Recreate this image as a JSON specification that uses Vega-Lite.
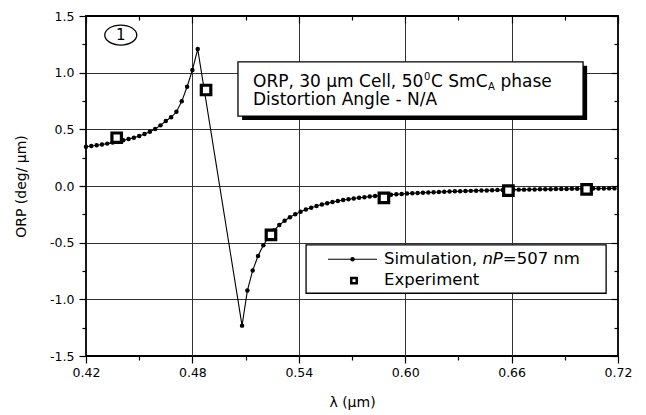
{
  "$schema": "https://vega.github.io/schema/vega-lite/v6.json",
  "width": 532,
  "height": 340,
  "autosize": "none",
  "padding": {"left": 86, "top": 16, "right": 28, "bottom": 59},
  "background": "white",
  "config": {
    "font": "DejaVu Sans",
    "view": {"stroke": "black", "strokeWidth": 1.8},
    "text": {"font": "DejaVu Sans", "color": "black"}
  },
  "datasets": {
    "simulation": [
      {"lam": 0.420, "orp": 0.347}, {"lam": 0.423, "orp": 0.353}, {"lam": 0.426, "orp": 0.359},
      {"lam": 0.429, "orp": 0.366}, {"lam": 0.432, "orp": 0.374}, {"lam": 0.435, "orp": 0.383},
      {"lam": 0.438, "orp": 0.393}, {"lam": 0.441, "orp": 0.403}, {"lam": 0.444, "orp": 0.414},
      {"lam": 0.447, "orp": 0.426}, {"lam": 0.450, "orp": 0.441}, {"lam": 0.453, "orp": 0.459},
      {"lam": 0.456, "orp": 0.479}, {"lam": 0.459, "orp": 0.503}, {"lam": 0.462, "orp": 0.535},
      {"lam": 0.465, "orp": 0.573}, {"lam": 0.468, "orp": 0.606}, {"lam": 0.471, "orp": 0.655},
      {"lam": 0.474, "orp": 0.747}, {"lam": 0.477, "orp": 0.876}, {"lam": 0.480, "orp": 1.023},
      {"lam": 0.483, "orp": 1.208},
      {"lam": 0.508, "orp": -1.232}, {"lam": 0.511, "orp": -0.923}, {"lam": 0.514, "orp": -0.745},
      {"lam": 0.517, "orp": -0.618}, {"lam": 0.520, "orp": -0.523}, {"lam": 0.523, "orp": -0.449},
      {"lam": 0.526, "orp": -0.392}, {"lam": 0.529, "orp": -0.345}, {"lam": 0.532, "orp": -0.307},
      {"lam": 0.535, "orp": -0.276}, {"lam": 0.538, "orp": -0.249}, {"lam": 0.541, "orp": -0.227},
      {"lam": 0.544, "orp": -0.207}, {"lam": 0.547, "orp": -0.191}, {"lam": 0.550, "orp": -0.176},
      {"lam": 0.553, "orp": -0.163}, {"lam": 0.556, "orp": -0.152}, {"lam": 0.559, "orp": -0.142},
      {"lam": 0.562, "orp": -0.133}, {"lam": 0.565, "orp": -0.124}, {"lam": 0.568, "orp": -0.117},
      {"lam": 0.571, "orp": -0.110}, {"lam": 0.574, "orp": -0.104}, {"lam": 0.577, "orp": -0.099},
      {"lam": 0.580, "orp": -0.093}, {"lam": 0.583, "orp": -0.089}, {"lam": 0.586, "orp": -0.084},
      {"lam": 0.589, "orp": -0.080}, {"lam": 0.592, "orp": -0.077}, {"lam": 0.595, "orp": -0.073},
      {"lam": 0.598, "orp": -0.070}, {"lam": 0.601, "orp": -0.067}, {"lam": 0.604, "orp": -0.064},
      {"lam": 0.607, "orp": -0.062}, {"lam": 0.610, "orp": -0.059}, {"lam": 0.613, "orp": -0.057},
      {"lam": 0.616, "orp": -0.055}, {"lam": 0.619, "orp": -0.053}, {"lam": 0.622, "orp": -0.051},
      {"lam": 0.625, "orp": -0.049}, {"lam": 0.628, "orp": -0.047}, {"lam": 0.631, "orp": -0.046},
      {"lam": 0.634, "orp": -0.044}, {"lam": 0.637, "orp": -0.043}, {"lam": 0.640, "orp": -0.041},
      {"lam": 0.643, "orp": -0.040}, {"lam": 0.646, "orp": -0.039}, {"lam": 0.649, "orp": -0.038},
      {"lam": 0.652, "orp": -0.036}, {"lam": 0.655, "orp": -0.035}, {"lam": 0.658, "orp": -0.034},
      {"lam": 0.661, "orp": -0.033}, {"lam": 0.664, "orp": -0.032}, {"lam": 0.667, "orp": -0.032},
      {"lam": 0.670, "orp": -0.031}, {"lam": 0.673, "orp": -0.030}, {"lam": 0.676, "orp": -0.029},
      {"lam": 0.679, "orp": -0.028}, {"lam": 0.682, "orp": -0.028}, {"lam": 0.685, "orp": -0.027},
      {"lam": 0.688, "orp": -0.026}, {"lam": 0.691, "orp": -0.026}, {"lam": 0.694, "orp": -0.025},
      {"lam": 0.697, "orp": -0.024}, {"lam": 0.700, "orp": -0.024}, {"lam": 0.703, "orp": -0.023},
      {"lam": 0.706, "orp": -0.023}, {"lam": 0.709, "orp": -0.022}, {"lam": 0.712, "orp": -0.022},
      {"lam": 0.715, "orp": -0.021}, {"lam": 0.718, "orp": -0.021}
    ],
    "experiment": [
      {"lam": 0.4373, "orp": 0.426},
      {"lam": 0.4877, "orp": 0.847},
      {"lam": 0.5243, "orp": -0.432},
      {"lam": 0.5880, "orp": -0.105},
      {"lam": 0.6582, "orp": -0.041},
      {"lam": 0.7023, "orp": -0.029}
    ]
  },
  "layer": [
    {
      "description": "Info box drop shadow, with the mirrored top/right tick axes",
      "data": {"values": [{"lam": 0.5080, "lam2": 0.7026, "orp": 1.061, "orp2": 0.582}]},
      "mark": {"type": "rect", "fill": "black"},
      "encoding": {
        "x": {"field": "lam", "type": "quantitative",
          "scale": {"domain": [0.42, 0.72], "nice": false, "zero": false},
          "axis": {"orient": "top", "title": null, "labels": false, "domain": false, "grid": false,
            "values": [0.42, 0.45, 0.48, 0.51, 0.54, 0.57, 0.6, 0.63, 0.66, 0.69, 0.72],
            "tickColor": "black", "tickWidth": 1.2,
            "tickSize": {"condition": {"test": "round((datum.value-0.42)/0.03)%2!==0", "value": -4}, "value": -7}}},
        "x2": {"field": "lam2"},
        "y": {"field": "orp", "type": "quantitative",
          "scale": {"domain": [-1.5, 1.5], "nice": false, "zero": false},
          "axis": {"orient": "right", "title": null, "labels": false, "domain": false, "grid": false,
            "values": [-1.5, -1.25, -1, -0.75, -0.5, -0.25, 0, 0.25, 0.5, 0.75, 1, 1.25, 1.5],
            "tickColor": "black", "tickWidth": 1.2,
            "tickSize": {"condition": {"test": "round(datum.value*4)%2!==0", "value": -4}, "value": -7}}},
        "y2": {"field": "orp2"}
      }
    },
    {
      "description": "Info box and legend box frames",
      "data": {"values": [
        {"lam": 0.5057, "lam2": 0.7003, "orp": 1.096, "orp2": 0.617},
        {"lam": 0.5441, "lam2": 0.7133, "orp": -0.5203, "orp2": -0.9462}
      ]},
      "mark": {"type": "rect", "fill": "white", "stroke": "black", "strokeWidth": 1.3},
      "encoding": {
        "x": {"field": "lam", "type": "quantitative", "scale": {"domain": [0.42, 0.72], "nice": false, "zero": false}, "axis": null},
        "x2": {"field": "lam2"},
        "y": {"field": "orp", "type": "quantitative", "scale": {"domain": [-1.5, 1.5], "nice": false, "zero": false}, "axis": null},
        "y2": {"field": "orp2"}
      }
    },
    {
      "description": "Simulated ORP curve with its sample points",
      "data": {"name": "simulation"},
      "mark": {"type": "line", "color": "black", "strokeWidth": 1.1,
        "point": {"filled": true, "color": "black", "size": 20}},
      "encoding": {
        "x": {"field": "lam", "type": "quantitative",
          "scale": {"domain": [0.42, 0.72], "nice": false, "zero": false},
          "axis": {"orient": "bottom", "title": "λ (μm)",
            "values": [0.42, 0.45, 0.48, 0.51, 0.54, 0.57, 0.6, 0.63, 0.66, 0.69, 0.72],
            "labelExpr": "round((datum.value-0.42)/0.03)%2===0 ? format(datum.value,'.2f') : ''",
            "labelFlush": false, "labelOverlap": false, "labelFontSize": 12.5, "labelColor": "black",
            "labelPadding": 3, "domain": false, "tickColor": "black", "tickWidth": 1.2,
            "tickSize": {"condition": {"test": "round((datum.value-0.42)/0.03)%2!==0", "value": 4}, "value": 7},
            "grid": true, "gridColor": "#333333", "gridWidth": 1,
            "gridOpacity": {"condition": {"test": "round((datum.value-0.42)/0.03)%2!==0 || datum.value<0.43 || datum.value>0.71", "value": 0}, "value": 1},
            "titleFontSize": 14, "titleFontWeight": "normal", "titleColor": "black", "titlePadding": 17}},
        "y": {"field": "orp", "type": "quantitative",
          "scale": {"domain": [-1.5, 1.5], "nice": false, "zero": false},
          "axis": {"orient": "left", "title": "ORP (deg/ μm)",
            "values": [-1.5, -1.25, -1, -0.75, -0.5, -0.25, 0, 0.25, 0.5, 0.75, 1, 1.25, 1.5],
            "labelExpr": "round(datum.value*4)%2===0 ? replace(format(datum.value,'.1f'),'−','-') : ''",
            "labelFlush": false, "labelOverlap": false, "labelFontSize": 12.5, "labelColor": "black",
            "labelPadding": 5, "domain": false, "tickColor": "black", "tickWidth": 1.2,
            "tickSize": {"condition": {"test": "round(datum.value*4)%2!==0", "value": 4}, "value": 7},
            "grid": true, "gridColor": "#333333", "gridWidth": 1,
            "gridOpacity": {"condition": {"test": "round(datum.value*4)%2!==0 || abs(datum.value)>1.4", "value": 0}, "value": 1},
            "titleFontSize": 14, "titleFontWeight": "normal", "titleColor": "black", "titlePadding": 21}}
      }
    },
    {
      "description": "Measured ORP",
      "data": {"name": "experiment"},
      "mark": {"type": "point", "shape": "square", "filled": false, "fill": "white", "stroke": "black", "strokeWidth": 3.2, "size": 90, "opacity": 1},
      "encoding": {
        "x": {"field": "lam", "type": "quantitative", "scale": {"domain": [0.42, 0.72], "nice": false, "zero": false}, "axis": null},
        "y": {"field": "orp", "type": "quantitative", "scale": {"domain": [-1.5, 1.5], "nice": false, "zero": false}, "axis": null}
      }
    },
    {
      "description": "Legend sample: line with a dot",
      "data": {"values": [{"lam": 0.55647, "orp": -0.6464}, {"lam": 0.58410, "orp": -0.6464}]},
      "mark": {"type": "line", "color": "black", "strokeWidth": 1.1},
      "encoding": {
        "x": {"field": "lam", "type": "quantitative", "scale": {"domain": [0.42, 0.72], "nice": false, "zero": false}, "axis": null},
        "y": {"field": "orp", "type": "quantitative", "scale": {"domain": [-1.5, 1.5], "nice": false, "zero": false}, "axis": null}
      }
    },
    {
      "data": {"values": [{"lam": 0.57029, "orp": -0.6464}]},
      "mark": {"type": "point", "filled": true, "color": "black", "size": 20, "opacity": 1},
      "encoding": {
        "x": {"field": "lam", "type": "quantitative", "scale": {"domain": [0.42, 0.72], "nice": false, "zero": false}, "axis": null},
        "y": {"field": "orp", "type": "quantitative", "scale": {"domain": [-1.5, 1.5], "nice": false, "zero": false}, "axis": null}
      }
    },
    {
      "description": "Legend sample: open square",
      "data": {"values": [{"lam": 0.57113, "orp": -0.835}]},
      "mark": {"type": "point", "shape": "square", "filled": false, "fill": "white", "stroke": "black", "strokeWidth": 2.5, "size": 30, "opacity": 1},
      "encoding": {
        "x": {"field": "lam", "type": "quantitative", "scale": {"domain": [0.42, 0.72], "nice": false, "zero": false}, "axis": null},
        "y": {"field": "orp", "type": "quantitative", "scale": {"domain": [-1.5, 1.5], "nice": false, "zero": false}, "axis": null}
      }
    },
    {
      "description": "Info box text, regular weight",
      "data": {"values": [
        {"lam": 0.51418, "orp": 0.876, "label": "ORP, 30 μm Cell, 50"},
        {"lam": 0.61455, "orp": 0.876, "label": "C SmC"},
        {"lam": 0.65369, "orp": 0.876, "label": "phase"},
        {"lam": 0.51418, "orp": 0.712, "label": "Distortion Angle - N/A"}
      ]},
      "mark": {"type": "text", "align": "left", "baseline": "alphabetic", "fontSize": 17, "color": "black"},
      "encoding": {
        "x": {"field": "lam", "type": "quantitative", "scale": {"domain": [0.42, 0.72], "nice": false, "zero": false}, "axis": null},
        "y": {"field": "orp", "type": "quantitative", "scale": {"domain": [-1.5, 1.5], "nice": false, "zero": false}, "axis": null},
        "text": {"field": "label"}
      }
    },
    {
      "description": "Superscript degree zero and subscript A",
      "data": {"values": [
        {"lam": 0.6106, "orp": 0.933, "label": "0"},
        {"lam": 0.6467, "orp": 0.849, "label": "A"}
      ]},
      "mark": {"type": "text", "align": "left", "baseline": "alphabetic", "fontSize": 10, "color": "black"},
      "encoding": {
        "x": {"field": "lam", "type": "quantitative", "scale": {"domain": [0.42, 0.72], "nice": false, "zero": false}, "axis": null},
        "y": {"field": "orp", "type": "quantitative", "scale": {"domain": [-1.5, 1.5], "nice": false, "zero": false}, "axis": null},
        "text": {"field": "label"}
      }
    },
    {
      "description": "Legend labels",
      "data": {"values": [
        {"lam": 0.58805, "orp": -0.6905, "label": "Simulation,"},
        {"lam": 0.65504, "orp": -0.6905, "label": "=507 nm"},
        {"lam": 0.58805, "orp": -0.873, "label": "Experiment"}
      ]},
      "mark": {"type": "text", "align": "left", "baseline": "alphabetic", "fontSize": 16.5, "color": "black"},
      "encoding": {
        "x": {"field": "lam", "type": "quantitative", "scale": {"domain": [0.42, 0.72], "nice": false, "zero": false}, "axis": null},
        "y": {"field": "orp", "type": "quantitative", "scale": {"domain": [-1.5, 1.5], "nice": false, "zero": false}, "axis": null},
        "text": {"field": "label"}
      }
    },
    {
      "data": {"values": [{"lam": 0.64354, "orp": -0.6905, "label": "nP"}]},
      "mark": {"type": "text", "align": "left", "baseline": "alphabetic", "fontSize": 16.5, "fontStyle": "italic", "color": "black"},
      "encoding": {
        "x": {"field": "lam", "type": "quantitative", "scale": {"domain": [0.42, 0.72], "nice": false, "zero": false}, "axis": null},
        "y": {"field": "orp", "type": "quantitative", "scale": {"domain": [-1.5, 1.5], "nice": false, "zero": false}, "axis": null},
        "text": {"field": "label"}
      }
    },
    {
      "description": "Panel number in an oval",
      "data": {"values": [{"lam": 0.4396, "orp": 1.332, "label": "1"}]},
      "layer": [
        {
          "mark": {"type": "point", "shape": "M -1.6,0 A 1.6,1 0 1,1 1.6,0 A 1.6,1 0 1,1 -1.6,0 Z", "size": 400, "filled": false, "stroke": "black", "strokeWidth": 1.3, "opacity": 1},
          "encoding": {
            "x": {"field": "lam", "type": "quantitative", "scale": {"domain": [0.42, 0.72], "nice": false, "zero": false}, "axis": null},
            "y": {"field": "orp", "type": "quantitative", "scale": {"domain": [-1.5, 1.5], "nice": false, "zero": false}, "axis": null}
          }
        },
        {
          "mark": {"type": "text", "align": "center", "baseline": "middle", "fontSize": 15, "color": "black"},
          "encoding": {
            "x": {"field": "lam", "type": "quantitative", "scale": {"domain": [0.42, 0.72], "nice": false, "zero": false}, "axis": null},
            "y": {"field": "orp", "type": "quantitative", "scale": {"domain": [-1.5, 1.5], "nice": false, "zero": false}, "axis": null},
            "text": {"field": "label"}
          }
        }
      ]
    }
  ]
}
